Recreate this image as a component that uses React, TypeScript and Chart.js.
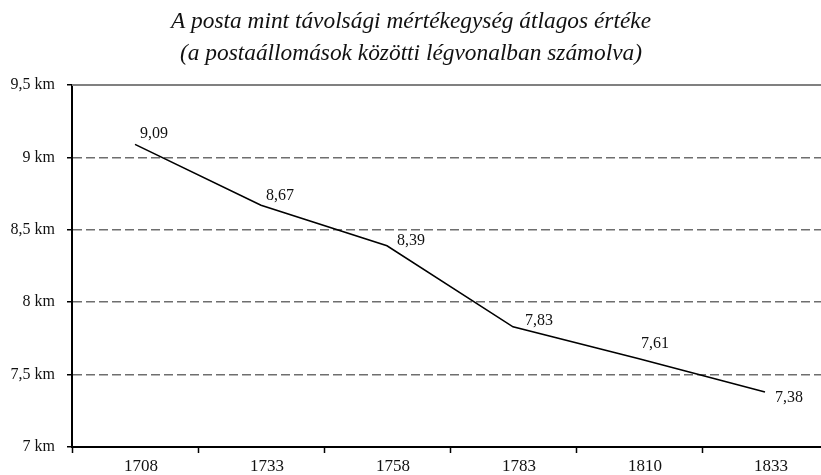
import React, { useEffect, useRef } from 'react';
import { Chart, registerables } from 'chart.js';

Chart.register(...registerables);

const years = ['1708', '1733', '1758', '1783', '1810', '1833'];
const avgKm = [9.09, 8.67, 8.39, 7.83, 7.61, 7.38];
const yTickValues = [7, 7.5, 8, 8.5, 9, 9.5];
const yTickLabels = ['7 km', '7,5 km', '8 km', '8,5 km', '9 km', '9,5 km'];
const titleLines = [
  'A posta mint távolsági mértékegység átlagos értéke',
  '(a postaállomások közötti légvonalban számolva)',
];
// label placement relative to each point: [dx, baseline dy]
const labelOffsets = [[5, -6], [5, -5], [10, -1], [12, -2], [2, -11], [10, 10]];

const SERIF = "'Liberation Serif', 'Times New Roman', serif";
const CANVAS_W = 830;
const CANVAS_H = 475;

const fmt = (v: number) => v.toFixed(2).replace('.', ',');

const decorPlugin = {
  id: 'decor',
  beforeDatasetsDraw(chart: any) {
    const { ctx, chartArea } = chart;
    ctx.save();
    ctx.strokeStyle = '#808080';
    ctx.lineWidth = 2;
    ctx.beginPath();
    ctx.moveTo(chartArea.left, chartArea.top);
    ctx.lineTo(chartArea.right, chartArea.top);
    ctx.stroke();
    ctx.restore();
  },
  afterDraw(chart: any) {
    const { ctx } = chart;
    ctx.save();
    // title
    ctx.fillStyle = '#111';
    ctx.textAlign = 'center';
    ctx.textBaseline = 'alphabetic';
    ctx.font = `italic 20px ${SERIF}`;
    const w = ctx.measureText(titleLines[0]).width;
    const size = (20 * 480) / w;
    ctx.font = `italic ${size.toFixed(2)}px ${SERIF}`;
    ctx.fillText(titleLines[0], 411, 28);
    ctx.fillText(titleLines[1], 411, 60);
    // data labels
    const meta = chart.getDatasetMeta(0);
    ctx.font = `16px ${SERIF}`;
    ctx.textAlign = 'left';
    meta.data.forEach((pt: any, i: number) => {
      const [dx, dy] = labelOffsets[i];
      ctx.fillText(fmt(avgKm[i]), pt.x + dx, pt.y + dy);
    });
    ctx.restore();
  },
};

export default function App() {
  const ref = useRef<HTMLCanvasElement | null>(null);

  useEffect(() => {
    if (!ref.current) return;
    const chart = new Chart(ref.current, {
      type: 'line',
      data: {
        labels: years,
        datasets: [
          {
            data: avgKm,
            borderColor: '#000',
            borderWidth: 1.6,
            pointRadius: 0,
            tension: 0,
            fill: false,
          },
        ],
      },
      options: {
        responsive: false,
        animation: false,
        devicePixelRatio: 1,
        layout: { padding: { top: 85, right: 2, left: 0, bottom: 0 } },
        plugins: {
          legend: { display: false },
          tooltip: { enabled: false },
          title: { display: false },
        },
        scales: {
          x: {
            offset: true,
            afterFit: (s: any) => {
              s.height = 28;
            },
            grid: {
              offset: true,
              drawOnChartArea: false,
              drawTicks: true,
              tickLength: 6,
              tickColor: '#000',
              tickWidth: 1.5,
            },
            border: { color: '#000', width: 2 },
            ticks: {
              font: { family: SERIF, size: 17 },
              color: '#111',
              padding: 3,
              labelOffset: 6,
              maxRotation: 0,
              autoSkip: false,
            },
          },
          y: {
            min: 7,
            max: 9.5,
            afterFit: (s: any) => {
              s.width = 72;
            },
            afterBuildTicks: (s: any) => {
              s.ticks = yTickValues.map((v) => ({ value: v }));
            },
            grid: {
              color: (c: any) =>
                c.tick && (c.tick.value === 9.5 || c.tick.value === 7) ? 'rgba(0,0,0,0)' : '#6e6e6e',
              lineWidth: 1.5,
              tickLength: 5,
              tickColor: '#000',
              tickWidth: 1.5,
            },
            border: { color: '#000', width: 2, dash: [9, 4] },
            ticks: {
              font: { family: SERIF, size: 16 },
              color: '#111',
              padding: 12,
              callback: (v: any) => yTickLabels[yTickValues.indexOf(Number(v))],
            },
          },
        },
      },
      plugins: [decorPlugin],
    });
    return () => chart.destroy();
  }, []);

  return (
    <div
      style={{
        position: 'fixed',
        left: 0,
        top: 0,
        width: 821,
        height: 475,
        overflow: 'hidden',
        background: '#fff',
      }}
    >
      <canvas ref={ref} width={CANVAS_W} height={CANVAS_H} style={{ display: 'block' }} />
    </div>
  );
}
